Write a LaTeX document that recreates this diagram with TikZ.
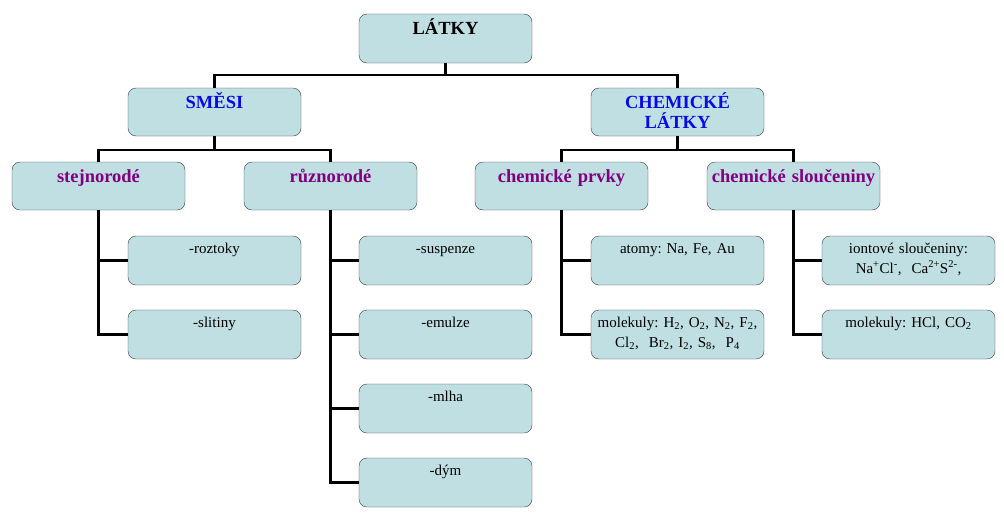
\documentclass[tikz,border=0pt]{standalone}
\usepackage{fontspec}
\setmainfont{Liberation Serif}
\definecolor{boxfill}{RGB}{192,223,227}
\definecolor{boxline}{RGB}{60,60,60}
\definecolor{purp}{RGB}{128,0,128}
\definecolor{blu}{RGB}{10,10,230}
\begin{document}
\frenchspacing
\begin{tikzpicture}[x=1pt, y=-1pt,
    box/.style={draw=boxline, fill=boxfill, rounded corners=8pt, anchor=north west,
        inner sep=0pt, outer sep=0pt, text width=173pt, align=center, text depth=0pt},
    top/.style={box, font=\fontsize{18.5}{20}\selectfont\bfseries, text height=20pt, text depth=29pt},
    lvl/.style={box, font=\fontsize{18.5}{20}\selectfont\bfseries, text height=20pt, text depth=28pt, text=purp},
    leaf/.style={box, font=\fontsize{15}{20}\selectfont, text height=17pt, text depth=32pt},
    link/.style={line width=2.6pt}]
    \useasboundingbox[fill=white] (0,0) rectangle (1004,512);

    % top and first level
    \node[top] (latky) at (359,14) {LÁTKY};
    \node[top, text=blu, text depth=28pt] (smesi) at (128,88) {SMĚSI};
    \node[top, text=blu, text depth=28pt] (chem) at (591,88) {CHEMICKÉ\\LÁTKY};

    % second level
    \node[lvl] (stej) at (12,162) {stejnorodé};
    \node[lvl] (ruzn) at (244,162) {různorodé};
    \node[lvl] (prvky) at (475,162) {chemické prvky};
    \node[lvl] (slouc) at (707,162) {chemické sloučeniny};

    % leaves
    \node[leaf] (roztoky) at (128,236) {-roztoky};
    \node[leaf] (slitiny) at (128,310) {-slitiny};
    \node[leaf] (suspenze) at (359,236) {-suspenze};
    \node[leaf] (emulze) at (359,310) {-emulze};
    \node[leaf] (mlha) at (359,384) {-mlha};
    \node[leaf] (dym) at (359,458) {-dým};
    \node[leaf] (atomy) at (591,236) {atomy: Na, Fe, Au};
    \node[leaf] (molek) at (591,310)
        {molekuly: H\textsubscript{2}, O\textsubscript{2}, N\textsubscript{2}, F\textsubscript{2},\\
         Cl\textsubscript{2}, \ Br\textsubscript{2}, I\textsubscript{2}, S\textsubscript{8}, \ P\textsubscript{4}};
    \node[leaf] (ionty) at (822,236)
        {iontové sloučeniny:\\ Na\textsuperscript{+}Cl\textsuperscript{-}, \ Ca\textsuperscript{2+}S\textsuperscript{2-},};
    \node[leaf] (molhcl) at (822,310) {molekuly: HCl, CO\textsubscript{2}};

    % tree links
    \draw[link] (latky.south) -- ++(0,12) -| (smesi.north);
    \draw[link] (latky.south) -- ++(0,12) -| (chem.north);
    \draw[link] (smesi.south) -- ++(0,14) -| (stej.north);
    \draw[link] (smesi.south) -- ++(0,14) -| (ruzn.north);
    \draw[link] (chem.south) -- ++(0,14) -| (prvky.north);
    \draw[link] (chem.south) -- ++(0,14) -| (slouc.north);

    \foreach \p/\c in {stej/roztoky, stej/slitiny, ruzn/suspenze, ruzn/emulze, ruzn/mlha,
        ruzn/dym, prvky/atomy, prvky/molek, slouc/ionty, slouc/molhcl} {
        \draw[link] (\p.south) |- (\c.west);
    }
\end{tikzpicture}
\end{document}
